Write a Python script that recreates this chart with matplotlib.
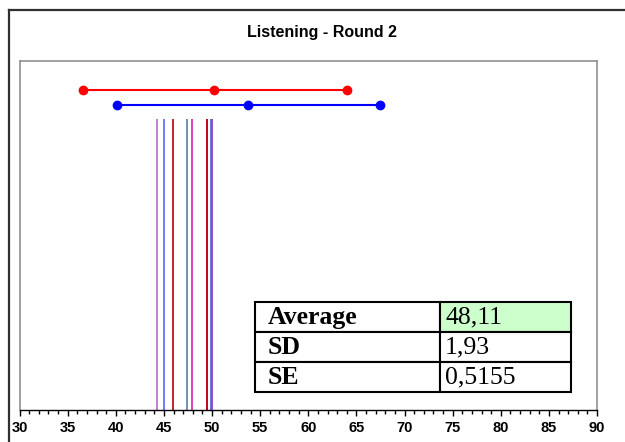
import matplotlib
matplotlib.use("Agg")
import matplotlib.pyplot as plt
from matplotlib.lines import Line2D

plt.rcParams["font.family"] = ["Liberation Sans", "DejaVu Sans"]

# score values
score_lines = [44.33, 44.98, 45.98, 47.37, 47.92, 49.45, 49.87, 50.0]
line_colors = ["#C080C8", "#7878FF", "#D02020", "#7090B0",
               "#E040C0", "#C00020", "#7070E0", "#9050C0"]

# mean +/- range bars
red_bar_x = [36.6, 50.2, 64.0]
blue_bar_x = [40.1, 53.7, 67.5]
red_bar_y = 0.917
blue_bar_y = 0.874
line_top = 0.834

stat_labels = ["Average", "SD", "SE"]
stat_values = ["48,11", "1,93", "0,5155"]

xticks = list(range(30, 91, 5))

W, H = 625, 442
fig = plt.figure(figsize=(W / 100, H / 100), dpi=100)

# outer chart border (top and left, right/bottom cut off)
fig.add_artist(Line2D([9 / W, 9 / W], [0, 1 - 10 / H], color="#303030", lw=1.6,
                      transform=fig.transFigure))
fig.add_artist(Line2D([9 / W, 1], [1 - 10 / H, 1 - 10 / H], color="#303030", lw=1.6,
                      transform=fig.transFigure))

ax = fig.add_axes([19.5 / W, (H - 410) / H, 577.5 / W, 349 / H])
ax.set_xlim(30, 90)
ax.set_ylim(0, 1)

for x, c in zip(score_lines, line_colors):
    ax.vlines(x, 0, line_top, color=c, lw=1.4)

ax.plot(red_bar_x, [red_bar_y] * 3, color="red", lw=1.5, marker="o", ms=6)
ax.plot(blue_bar_x, [blue_bar_y] * 3, color="blue", lw=1.5, marker="o", ms=6)

for side in ["top", "right", "left"]:
    ax.spines[side].set_color("#909090")
    ax.spines[side].set_linewidth(1.2)
ax.spines["bottom"].set_color("black")
ax.spines["bottom"].set_linewidth(1.0)

ax.set_yticks([])
ax.set_xticks(range(30, 91), minor=True)
ax.tick_params(axis="x", which="major", direction="out", length=4, width=1, pad=4,
               labelsize=10.5)
ax.tick_params(axis="x", which="minor", direction="out", length=3, width=1)
ax.set_xticks(xticks, labels=[str(t) for t in xticks], fontweight="bold")

fig.text(322 / W, 1 - 33 / H, "Listening - Round 2", ha="center", va="center",
         fontsize=11.5, fontweight="bold")

# stats table
tbl = ax.table(cellText=[[l, v] for l, v in zip(stat_labels, stat_values)],
               colWidths=[0.585, 0.415],
               bbox=[(255 - 19.5) / 577.5, (410 - 392) / 349, 316 / 577.5, 90 / 349])
tbl.auto_set_font_size(False)
for (r, c), cell in tbl.get_celld().items():
    cell.set_linewidth(1.5)
    cell.set_edgecolor("black")
    txt = cell.get_text()
    txt.set_fontfamily("Liberation Serif")
    txt.set_fontsize(18.5)
    cell.set_text_props(ha="left")
    cell._loc = "left"
    if c == 0:
        cell.PAD = 0.07
        txt.set_fontweight("bold")
    else:
        cell.PAD = 0.04
    if r == 0 and c == 1:
        cell.set_facecolor("#CCFFCC")

fig.savefig("out.png", dpi=100)
